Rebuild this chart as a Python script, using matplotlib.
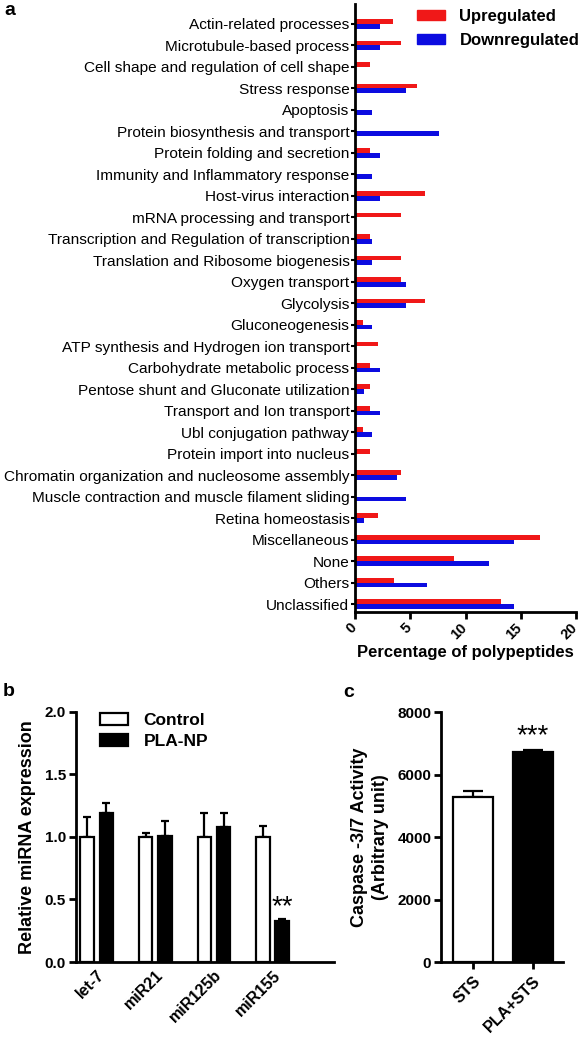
import matplotlib
matplotlib.use("Agg")
import matplotlib.pyplot as plt
import numpy as np
from matplotlib.patches import Patch

plt.rcParams['font.family'] = ['Liberation Sans', 'DejaVu Sans']

# ---------------- data ----------------
categories = [
    "Actin-related processes", "Microtubule-based process",
    "Cell shape and regulation of cell shape", "Stress response", "Apoptosis",
    "Protein biosynthesis and transport", "Protein folding and secretion",
    "Immunity and Inflammatory response", "Host-virus interaction",
    "mRNA processing and transport", "Transcription and Regulation of transcription",
    "Translation and Ribosome biogenesis", "Oxygen transport", "Glycolysis",
    "Gluconeogenesis", "ATP synthesis and Hydrogen ion transport",
    "Carbohydrate metabolic process", "Pentose shunt and Gluconate utilization",
    "Transport and Ion transport", "Ubl conjugation pathway",
    "Protein import into nucleus",
    "Chromatin organization and nucleosome assembly",
    "Muscle contraction and muscle filament sliding", "Retina homeostasis",
    "Miscellaneous", "None", "Others", "Unclassified",
]
upregulated = [3.4, 4.2, 1.4, 5.6, 0.0, 0.0, 1.4, 0.0, 6.3, 4.2, 1.4, 4.2, 4.2, 6.3,
               0.7, 2.1, 1.4, 1.4, 1.4, 0.7, 1.4, 4.2, 0.0, 2.1, 16.7, 9.0, 3.5, 13.2]
downregulated = [2.3, 2.3, 0.0, 4.6, 1.5, 7.6, 2.3, 1.5, 2.3, 0.0, 1.5, 1.5, 4.6, 4.6,
                 1.5, 0.0, 2.3, 0.8, 2.3, 1.5, 0.0, 3.8, 4.6, 0.8, 14.4, 12.1, 6.5, 14.4]
pct_ticks = [0, 5, 10, 15, 20]

mirnas = ["let-7", "miR21", "miR125b", "miR155"]
control_expr = [1.0, 1.0, 1.0, 1.0]
control_err = [0.16, 0.03, 0.19, 0.09]
plaNP_expr = [1.19, 1.01, 1.08, 0.33]
plaNP_err = [0.08, 0.12, 0.11, 0.01]
expr_ticks = [0.0, 0.5, 1.0, 1.5, 2.0]

caspase_groups = ["STS", "PLA+STS"]
caspase_vals = [5280, 6720]
caspase_err = [200, 60]
caspase_ticks = [0, 2000, 4000, 6000, 8000]

W, H = 581, 1039
fig = plt.figure(figsize=(W / 100, H / 100), dpi=100)

def fx(px):
    return px / W

def fy(py):
    return 1 - py / H

RED = '#f01818'
BLUE = '#0c0ce0'

# ---------------- panel a ----------------
axa = fig.add_axes([fx(355), fy(612), fx(576) - fx(355), fy(4) - fy(612)])
n = len(categories)
pos = np.arange(n)
bh = 0.22
axa.barh(pos - bh / 2, upregulated, height=bh, color=RED, label='Upregulated')
axa.barh(pos + bh / 2, downregulated, height=bh, color=BLUE, label='Downregulated')
axa.set_ylim(n - 1 + 0.37, -0.93)
axa.set_xlim(0, 20)
axa.set_yticks(pos)
axa.set_yticklabels(categories, fontsize=11.1)
axa.set_xticks(pct_ticks)
axa.set_xticklabels([])
for t in pct_ticks:
    axa.annotate(str(t), xy=(t, 0), xycoords=('data', 'axes fraction'),
                 xytext=(-4, -6), textcoords='offset points', rotation=45,
                 ha='right', va='top', rotation_mode='anchor',
                 fontsize=10.5, fontweight='bold', annotation_clip=False)
axa.set_xlabel("Percentage of polypeptides", fontsize=12, fontweight='bold', labelpad=17)
for s in ['top', 'right']:
    axa.spines[s].set_visible(False)
for s in ['left', 'bottom']:
    axa.spines[s].set_linewidth(2)
axa.tick_params(axis='y', length=3, width=1.5, pad=1)
axa.tick_params(axis='x', length=5, width=2, pad=2)
axa.legend(handles=[Patch(color=RED, label='Upregulated'), Patch(color=BLUE, label='Downregulated')],
           loc='upper left', bbox_to_anchor=(fx(417), fy(9)), bbox_transform=fig.transFigure,
           frameon=False, prop={'weight': 'bold', 'size': 12}, handlelength=1.7,
           handleheight=0.55, handletextpad=0.85, labelspacing=0.55, borderpad=0,
           borderaxespad=0)

# ---------------- panel b ----------------
axb = fig.add_axes([fx(75.7), fy(962), fx(334) - fx(75.7), fy(711.7) - fy(962)])
x = np.arange(len(mirnas))
bw = 0.23
off = 0.165
axb.bar(x - off, control_expr, width=bw, color='white', edgecolor='black', linewidth=1.6,
        label='Control', zorder=2)
axb.bar(x + off, plaNP_expr, width=bw, color='black', edgecolor='black', linewidth=1.6,
        label='PLA-NP', zorder=2)
axb.errorbar(x - off, control_expr, yerr=[np.zeros(len(x)), control_err], fmt='none',
             ecolor='black', elinewidth=1.6, capsize=3, capthick=1.6, zorder=1)
axb.errorbar(x + off, plaNP_expr, yerr=[np.zeros(len(x)), plaNP_err], fmt='none',
             ecolor='black', elinewidth=1.6, capsize=3, capthick=1.6, zorder=1)
axb.set_xlim(-0.36, 4.05)
axb.set_ylim(0, 2.0)
axb.set_yticks(expr_ticks)
axb.set_yticklabels([f"{t:.1f}" for t in expr_ticks], fontsize=11, fontweight='bold')
axb.set_xticks(x)
axb.set_xticklabels(mirnas, rotation=45, ha='right', rotation_mode='anchor',
                    fontsize=11.5, fontweight='bold')
axb.set_ylabel("Relative miRNA expression", fontsize=13, fontweight='bold', labelpad=6)
for s in ['top', 'right']:
    axb.spines[s].set_visible(False)
for s in ['left', 'bottom']:
    axb.spines[s].set_linewidth(2)
axb.tick_params(axis='y', length=5, width=2, pad=2)
axb.tick_params(axis='x', length=0, pad=4)
axb.text(x[3] + off, plaNP_expr[3] + plaNP_err[3] - 0.01, "**", ha='center', va='bottom',
         fontsize=20)
axb.legend(loc='upper left', bbox_to_anchor=(fx(100), fy(713)), bbox_transform=fig.transFigure,
           frameon=False, prop={'weight': 'bold', 'size': 12.5}, handlelength=1.6,
           handleheight=0.7, handletextpad=0.9, labelspacing=0.35, borderpad=0,
           borderaxespad=0)

# ---------------- panel c ----------------
axc = fig.add_axes([fx(441), fy(962.3), fx(562.7) - fx(441), fy(712.3) - fy(962.3)])
xc = np.arange(len(caspase_groups))
axc.bar(xc, caspase_vals, width=0.67, color=['white', 'black'], edgecolor='black',
        linewidth=1.6, zorder=2)
axc.errorbar(xc, caspase_vals, yerr=[np.zeros(len(xc)), caspase_err], fmt='none',
             ecolor='black', elinewidth=1.6, capsize=7, capthick=1.6, zorder=1)
axc.set_xlim(-0.54, 1.5)
axc.set_ylim(0, 8000)
axc.set_yticks(caspase_ticks)
axc.set_yticklabels([str(t) for t in caspase_ticks], fontsize=11, fontweight='bold')
axc.set_xticks(xc)
axc.set_xticklabels(caspase_groups, rotation=45, ha='right', rotation_mode='anchor',
                    fontsize=11.5, fontweight='bold')
axc.set_ylabel("Caspase -3/7 Activity\n(Arbitrary unit)", fontsize=13, fontweight='bold',
               labelpad=6, linespacing=1.3)
for s in ['top', 'right']:
    axc.spines[s].set_visible(False)
for s in ['left', 'bottom']:
    axc.spines[s].set_linewidth(2)
axc.tick_params(axis='y', length=5, width=2, pad=2)
axc.tick_params(axis='x', length=5, width=2, pad=3)
axc.text(xc[1], caspase_vals[1] + caspase_err[1] + 40, "***", ha='center', va='bottom',
         fontsize=20)

# ---------------- panel letters ----------------
fig.text(fx(4), fy(2), "a", fontsize=14, fontweight='bold', va='top', ha='left')
fig.text(fx(3), fy(683), "b", fontsize=14, fontweight='bold', va='top', ha='left')
fig.text(fx(343), fy(684), "c", fontsize=14, fontweight='bold', va='top', ha='left')

fig.savefig("out.png", dpi=100)
